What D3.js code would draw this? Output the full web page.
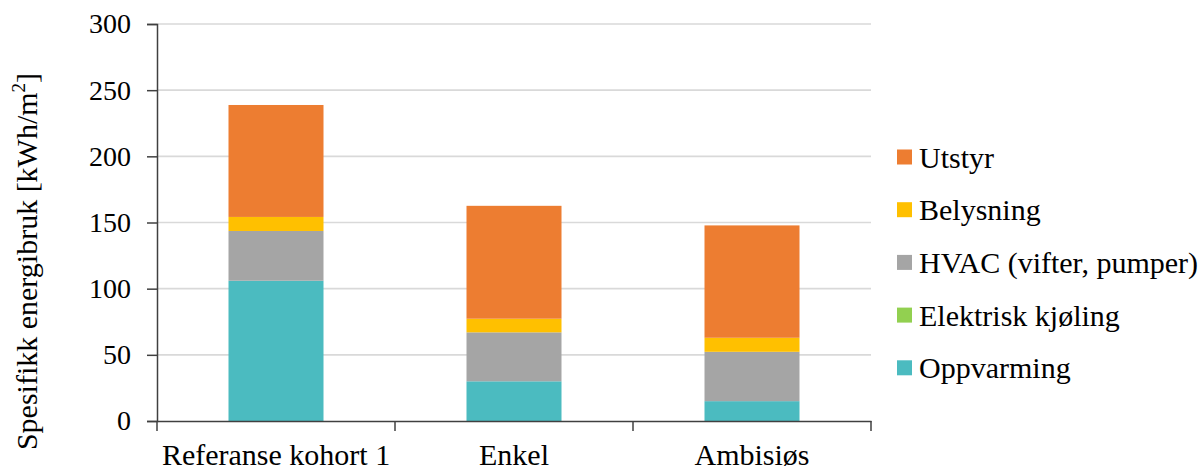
<!DOCTYPE html>
<html>
<head>
<meta charset="utf-8">
<script src="https://cdn.jsdelivr.net/npm/d3@7"></script>
<style>
  html, body { margin: 0; padding: 0; background: #fff; }
  svg { display: block; }
  text { font-family: "Liberation Serif", "Times New Roman", serif; fill: #000; }
</style>
</head>
<body>
<svg id="chart" width="1203" height="470"></svg>
<script>
// Categories and stacked series (kWh/m² per year)
const categories = ["Referanse kohort 1", "Enkel", "Ambisiøs"];
const oppvarming = [106, 30, 15];
const elektriskKjoling = [0, 0, 0];
const hvac = [37.6, 37, 37.3];
const belysning = [10.6, 10.3, 10.6];
const utstyr = [84.6, 85.3, 84.9];
const yTicks = [0, 50, 100, 150, 200, 250, 300];

// Stack order bottom -> top
const seriesKeys = ["Oppvarming", "Elektrisk kjøling", "HVAC (vifter, pumper)", "Belysning", "Utstyr"];
const seriesValues = [oppvarming, elektriskKjoling, hvac, belysning, utstyr];
const colors = ["#4BBBC0", "#92D050", "#A5A5A5", "#FFC000", "#ED7D31"];

const rows = categories.map((c, i) => {
  const r = { category: c };
  seriesKeys.forEach((k, j) => r[k] = seriesValues[j][i]);
  return r;
});
const stacked = d3.stack().keys(seriesKeys)(rows);

const svg = d3.select("#chart");
const plotLeft = 157, plotRight = 871, plotTop = 24, plotBottom = 421;

const x = d3.scaleBand().domain(categories).range([plotLeft, plotRight]).paddingInner(0).paddingOuter(0);
const y = d3.scaleLinear().domain([0, 300]).range([plotBottom, plotTop]);
const barW = 95;

// Gridlines
svg.append("g").selectAll("line").data(yTicks.filter(t => t > 0)).join("line")
  .attr("x1", plotLeft).attr("x2", plotRight)
  .attr("y1", d => y(d)).attr("y2", d => y(d))
  .attr("stroke", "#d9d9d9").attr("stroke-width", 1.6);

// Bars
svg.append("g").selectAll("g").data(stacked).join("g")
  .attr("fill", (d, i) => colors[i])
  .selectAll("rect").data(d => d).join("rect")
  .attr("x", d => x(d.data.category) + x.bandwidth() / 2 - barW / 2)
  .attr("width", barW)
  .attr("y", d => y(d[1]))
  .attr("height", d => y(d[0]) - y(d[1]));

// Y axis
const yAxis = svg.append("g").attr("transform", `translate(${plotLeft},0)`)
  .call(d3.axisLeft(y).tickValues(yTicks).tickSize(10).tickPadding(16));
yAxis.select(".domain").attr("stroke", "#404040").attr("stroke-width", 1.5);
yAxis.selectAll(".tick line").attr("stroke", "#404040").attr("stroke-width", 1.5);
yAxis.selectAll(".tick text").style("font-size", "28px").attr("fill", "#000");

// X axis: ticks at category boundaries
const xAxis = svg.append("g").attr("transform", `translate(0,${plotBottom})`)
  .call(d3.axisBottom(x).tickSize(0).tickPadding(23));
xAxis.select(".domain").attr("stroke", "#404040").attr("stroke-width", 1.5);
xAxis.selectAll(".tick text").style("font-size", "30px").attr("fill", "#000")
  .attr("dy", "0.71em");
const bounds = [plotLeft].concat(categories.map(c => x(c) + x.bandwidth()));
svg.append("g").selectAll("line").data(bounds).join("line")
  .attr("x1", d => d).attr("x2", d => d)
  .attr("y1", plotBottom).attr("y2", plotBottom + 10)
  .attr("stroke", "#404040").attr("stroke-width", 1.5);

// Y axis title
const yt = svg.append("text")
  .attr("transform", `translate(37,${(plotTop + plotBottom) / 2 + 39}) rotate(-90)`)
  .attr("text-anchor", "middle")
  .style("font-size", "30px");
yt.append("tspan").text("Spesifikk energibruk [kWh/m");
yt.append("tspan").style("font-size", "19px").attr("dy", -12).text("2");
yt.append("tspan").attr("dy", 12).text("]");

// Legend (top entry is the top of the stack)
const legendItems = seriesKeys.map((k, i) => ({ key: k, color: colors[i] })).reverse();
const lg = svg.append("g").selectAll("g").data(legendItems).join("g")
  .attr("transform", (d, i) => `translate(897,${157 + i * 52.7})`);
lg.append("rect").attr("x", 0).attr("y", -7.5).attr("width", 15).attr("height", 15).attr("fill", d => d.color);
lg.append("text").attr("x", 22).attr("y", 0).attr("dy", "0.35em").style("font-size", "30px").text(d => d.key);
</script>
</body>
</html>
